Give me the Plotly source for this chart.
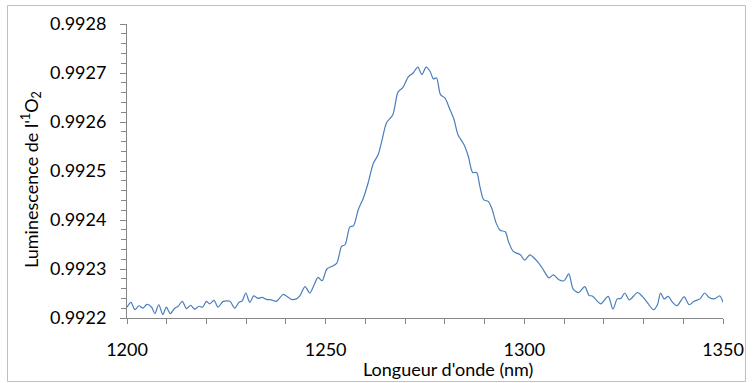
import plotly.graph_objects as go

# Singlet-oxygen luminescence spectrum
wavelength_nm = [
    1200.0, 1201.0, 1202.0, 1203.0, 1204.0, 1205.0, 1206.2, 1207.0, 1208.0, 1209.0,
    1209.9, 1210.9, 1212.0, 1212.9, 1213.9, 1215.0, 1216.0, 1217.0, 1218.1, 1219.0,
    1220.0, 1220.8, 1221.9, 1222.9, 1224.2, 1225.9, 1227.1, 1228.2, 1229.0, 1229.9,
    1230.9, 1231.9, 1233.0, 1234.0, 1235.1, 1236.3, 1237.6, 1239.3, 1240.1, 1241.4,
    1242.6, 1243.5, 1244.8, 1246.0, 1247.0, 1248.1, 1249.1, 1250.3, 1251.5, 1252.8,
    1254.0, 1254.9, 1256.1, 1257.0, 1258.2, 1259.5, 1260.7, 1262.0, 1263.2, 1264.1,
    1265.3, 1266.9, 1268.2, 1269.4, 1270.8, 1272.0, 1273.2, 1274.2, 1275.3, 1276.3,
    1277.1, 1277.9, 1278.9, 1280.0, 1281.3, 1282.3, 1283.3, 1284.8, 1285.9, 1287.0,
    1288.0, 1288.8, 1289.8, 1290.9, 1291.8, 1292.9, 1293.9, 1295.2, 1296.0, 1297.2,
    1299.0, 1300.1, 1301.4, 1303.2, 1304.5, 1306.2, 1307.3, 1308.7, 1310.0, 1311.2,
    1312.3, 1313.7, 1315.2, 1316.3, 1317.1, 1319.2, 1321.1, 1322.3, 1323.4, 1324.3,
    1325.3, 1326.4, 1328.5, 1329.7, 1331.0, 1332.5, 1333.5, 1334.3, 1335.2, 1336.2,
    1337.3, 1338.4, 1340.2, 1341.5, 1342.7, 1344.2, 1345.4, 1346.5, 1347.8, 1349.2,
    1350.0,
]

luminescence = [
    0.992222, 0.992232, 0.992217, 0.992225, 0.992220, 0.992228, 0.992222, 0.992209, 0.992227, 0.992207,
    0.992222, 0.992209, 0.992220, 0.992224, 0.992234, 0.992219, 0.992226, 0.992218, 0.992224, 0.992222,
    0.992234, 0.992229, 0.992236, 0.992222, 0.992234, 0.992234, 0.992220, 0.992232, 0.992235, 0.992251,
    0.992232, 0.992245, 0.992240, 0.992242, 0.992238, 0.992237, 0.992234, 0.992248, 0.992245, 0.992238,
    0.992239, 0.992245, 0.992264, 0.992251, 0.992266, 0.992283, 0.992276, 0.992300, 0.992305, 0.992312,
    0.992346, 0.992350, 0.992386, 0.992388, 0.992421, 0.992445, 0.992476, 0.992516, 0.992533, 0.992560,
    0.992598, 0.992615, 0.992661, 0.992670, 0.992692, 0.992700, 0.992712, 0.992697, 0.992712, 0.992703,
    0.992688, 0.992690, 0.992656, 0.992649, 0.992625, 0.992605, 0.992574, 0.992554, 0.992530, 0.992497,
    0.992497, 0.992469, 0.992441, 0.992438, 0.992424, 0.992394, 0.992379, 0.992376, 0.992356, 0.992336,
    0.992329, 0.992318, 0.992329, 0.992316, 0.992302, 0.992282, 0.992288, 0.992278, 0.992276, 0.992290,
    0.992259, 0.992252, 0.992264, 0.992246, 0.992245, 0.992229, 0.992244, 0.992218, 0.992239, 0.992240,
    0.992251, 0.992237, 0.992252, 0.992244, 0.992231, 0.992217, 0.992227, 0.992251, 0.992239, 0.992244,
    0.992232, 0.992225, 0.992243, 0.992227, 0.992234, 0.992239, 0.992251, 0.992242, 0.992239, 0.992245,
    0.992232,
]

x_range = [1200, 1350]
y_range = [0.9922, 0.9928]

FONT = "Lato"
AXIS_GREY = "#868686"

fig = go.Figure(
    go.Scatter(
        x=wavelength_nm,
        y=luminescence,
        mode="lines",
        line=dict(color="#4A7EBB", width=1.2, shape="spline", smoothing=0.8),
        hoverinfo="x+y",
    )
)

axis_common = dict(
    showgrid=False,
    zeroline=False,
    showline=True,
    linecolor=AXIS_GREY,
    linewidth=1,
    ticks="outside",
    tickcolor=AXIS_GREY,
    tickwidth=1,
    tickfont=dict(family=FONT, size=18, color="#000000"),
    automargin=False,
)

fig.update_xaxes(
    range=x_range,
    dtick=50,
    tick0=1200,
    ticklen=5,
    ticklabelstandoff=10,
    minor=dict(dtick=10, tick0=1200, ticks="outside", ticklen=5, tickcolor=AXIS_GREY, showgrid=False),
    **axis_common,
)
fig.update_yaxes(
    range=y_range,
    dtick=0.0001,
    tick0=0.9922,
    tickformat=".4f",
    ticklen=6,
    ticklabelstandoff=10,
    minor=dict(dtick=0.00002, tick0=0.9922, ticks="outside", ticklen=5, tickcolor=AXIS_GREY, showgrid=False),
    **axis_common,
)

plot_l, plot_r, plot_t, plot_b = 127, 723, 24, 318
W, H = 753, 383
pw, ph = plot_r - plot_l, plot_b - plot_t


def px_x(px):
    return (px - plot_l) / pw


def px_y(py):
    return (plot_b - py) / ph


fig.update_layout(
    width=W,
    height=H,
    margin=dict(l=plot_l, r=W - plot_r, t=plot_t, b=H - plot_b, pad=0),
    paper_bgcolor="white",
    plot_bgcolor="white",
    showlegend=False,
    annotations=[
        dict(
            text="Longueur d'onde (nm)",
            x=px_x(448), y=px_y(369),
            xref="paper", yref="paper",
            xanchor="center", yanchor="middle",
            showarrow=False,
            font=dict(family=FONT, size=18, color="#000000"),
        ),
        dict(
            text="Luminescence de l'<sup>1</sup>O<sub>2</sub>",
            x=px_x(31), y=px_y(180),
            xref="paper", yref="paper",
            xanchor="center", yanchor="middle",
            textangle=-90,
            showarrow=False,
            font=dict(family=FONT, size=18, color="#000000"),
        ),
    ],
    shapes=[
        dict(
            type="rect",
            xref="paper", yref="paper",
            x0=px_x(7.5), x1=px_x(745.5), y0=px_y(381.5), y1=px_y(5.5),
            line=dict(color="#BFBFBF", width=1),
            fillcolor="rgba(0,0,0,0)",
            layer="below",
        )
    ],
)

fig.write_html("out.html")
